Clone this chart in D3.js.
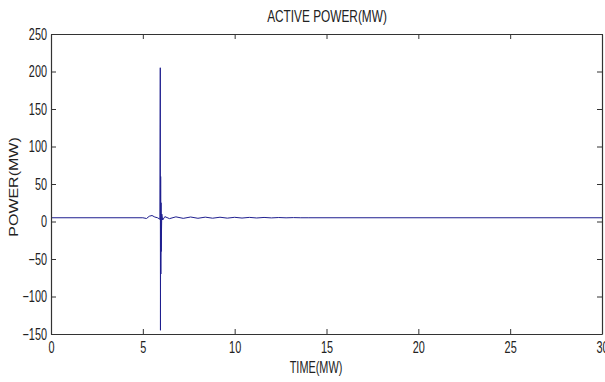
<!DOCTYPE html>
<html>
<head>
<meta charset="utf-8">
<script src="https://cdn.jsdelivr.net/npm/d3@7"></script>
<style>
  body { margin: 0; background: #fff; }
  text { font-family: "Liberation Sans", Arial, sans-serif; fill: #222; }
</style>
</head>
<body>
<div id="container"></div>
<script>
/* CONSTANTS AND GLOBALS */
const width = 605;
const height = 382;
const margin = { top: 34, right: 3, bottom: 48, left: 51 };

// time (s) and active power (MW)
const time  = [0, 5.0, 5.2, 5.35, 5.5, 5.65, 5.8, 5.93, 5.95, 5.96, 5.97, 5.98, 5.99, 6.0, 6.03, 6.08, 6.2, 6.45, 6.8, 7.2, 7.6, 8.0, 8.4, 8.8, 9.2, 9.6, 10.0, 10.4, 10.8, 11.2, 11.6, 12.0, 12.4, 12.8, 13.2, 13.6, 14.0, 30];
const power = [5, 5, 4, 7, 8, 6, 5, 3, 205, -145, 60, -70, 25, -40, 10, 2, 6.5, 3.8, 6.2, 4.2, 6, 4.3, 5.8, 4.4, 5.7, 4.5, 5.6, 4.6, 5.5, 4.7, 5.4, 4.8, 5.3, 4.9, 5.2, 5, 5, 5];

const xTicks = [0, 5, 10, 15, 20, 25, 30];
const yTicks = [-150, -100, -50, 0, 50, 100, 150, 200, 250];

const data = time.map((t, i) => ({ t: t, p: power[i] }));

/* SCALES */
const x = d3.scaleLinear().domain([0, 30]).range([margin.left, width - margin.right]);
const y = d3.scaleLinear().domain([-150, 250]).range([height - margin.bottom, margin.top]);

/* CREATE SVG ELEMENT */
const svg = d3.select("#container")
  .append("svg")
  .attr("width", width)
  .attr("height", height);

// the reference text looks horizontally squeezed
function squeeze(sel, f) {
  sel.each(function() {
    const w = this.getComputedTextLength();
    d3.select(this).attr("textLength", w * f).attr("lengthAdjust", "spacingAndGlyphs");
  });
}

/* LINE */
svg.append("path")
  .datum(data)
  .attr("fill", "none")
  .attr("stroke", "#1f1f8f")
  .attr("stroke-width", 1)
  .attr("d", d3.line().x(d => x(d.t)).y(d => y(d.p)));

/* AXES (ticks pointing inward, box frame) */
const styleAxis = g => {
  g.selectAll("path.domain").attr("stroke", "#333").attr("stroke-width", 1.2);
  g.selectAll(".tick line").attr("stroke", "#333");
  g.selectAll(".tick text").style("font-size", "16px").attr("fill", "#222").call(squeeze, 0.68);
};

svg.append("g")
  .attr("transform", "translate(0," + (height - margin.bottom) + ")")
  .call(d3.axisBottom(x).tickValues(xTicks).tickSizeInner(-5).tickSizeOuter(0).tickPadding(8))
  .call(styleAxis);

svg.append("g")
  .attr("transform", "translate(0," + margin.top + ")")
  .call(d3.axisTop(x).tickValues(xTicks).tickSizeInner(-5).tickSizeOuter(0).tickFormat(""))
  .call(styleAxis);

svg.append("g")
  .attr("transform", "translate(" + margin.left + ",0)")
  .call(d3.axisLeft(y).tickValues(yTicks).tickSizeInner(-5).tickSizeOuter(0).tickPadding(4))
  .call(styleAxis);

svg.append("g")
  .attr("transform", "translate(" + (width - margin.right) + ",0)")
  .call(d3.axisRight(y).tickValues(yTicks).tickSizeInner(-5).tickSizeOuter(0).tickFormat(""))
  .call(styleAxis);

/* LABELS */
svg.append("text")
  .attr("x", 327)
  .attr("y", 22)
  .attr("text-anchor", "middle")
  .style("font-size", "16px")
  .text("ACTIVE POWER(MW)")
  .call(squeeze, 0.74);

svg.append("text")
  .attr("x", 316)
  .attr("y", 373)
  .attr("text-anchor", "middle")
  .style("font-size", "16px")
  .text("TIME(MW)")
  .call(squeeze, 0.68);

svg.append("text")
  .attr("transform", "translate(18,187) rotate(-90) scale(1,0.75)")
  .attr("text-anchor", "middle")
  .style("font-size", "16px")
  .text("POWER(MW)");
</script>
</body>
</html>
